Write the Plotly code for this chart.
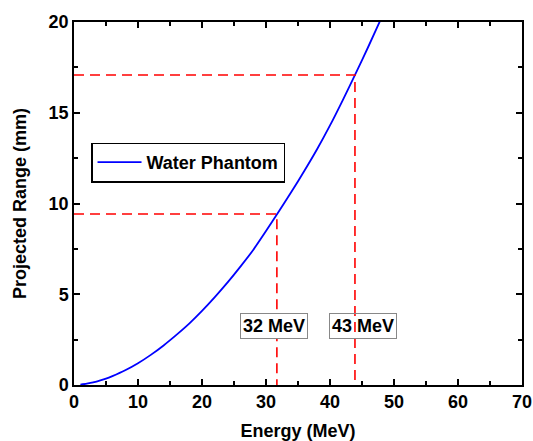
import plotly.graph_objects as go

# Projected range of protons in water
energy_mev = [1, 2, 3, 4, 5, 6, 8, 10, 12, 14, 16, 18, 20, 22, 24, 26, 28, 30,
              32, 34, 36, 38, 40, 42, 44, 46, 48]
range_mm = [0.02, 0.07, 0.14, 0.24, 0.35, 0.49, 0.81, 1.20, 1.66, 2.18, 2.76,
            3.38, 4.08, 4.84, 5.65, 6.52, 7.44, 8.48, 9.56, 10.66, 11.8, 13.0,
            14.3, 15.7, 17.15, 18.65, 20.2]

# Marked energies and their ranges
mark_energy = [31.7, 43.9]
mark_range = [9.42, 17.08]
mark_labels = ["32 MeV", "43 MeV"]
label_pos_x = [31.2, 45.1]
label_pos_y = [3.25, 3.25]

FONT = "Liberation Sans"

fig = go.Figure()

fig.add_trace(go.Scatter(
    x=energy_mev, y=range_mm, mode="lines", name="Water Phantom",
    line=dict(color="#0000ff", width=1.8, shape="spline", smoothing=0.6),
    cliponaxis=True))

for e, r in zip(mark_energy, mark_range):
    fig.add_trace(go.Scatter(
        x=[0, e, e], y=[r, r, 0], mode="lines", showlegend=False,
        line=dict(color="#ff0000", width=1.6, dash="10px,6px")))

for i, (lab, lx, ly) in enumerate(zip(mark_labels, label_pos_x, label_pos_y)):
    fig.add_annotation(
        x=lx, y=ly, text=lab, showarrow=False,
        font=dict(family=FONT, size=18, color="black", weight="bold"),
        bordercolor="#888888", borderwidth=1, borderpad=2,
        bgcolor="white" if i == 0 else "rgba(0,0,0,0)")

axis_common = dict(
    showline=True, linecolor="black", linewidth=1.5, mirror="ticks",
    ticks="inside", ticklen=6, tickwidth=1.5, tickcolor="black",
    showgrid=False, zeroline=False, automargin=False,
    tickfont=dict(family=FONT, size=18, color="black", weight="bold"),
)

fig.update_xaxes(
    range=[0, 70], dtick=10, tick0=0,
    minor=dict(ticks="inside", ticklen=4, dtick=5, tickwidth=1.5, tickcolor="black"),
    title=dict(text="Energy (MeV)", standoff=17,
               font=dict(family=FONT, size=18, color="black", weight="bold")),
    **axis_common)
fig.update_yaxes(
    range=[0, 20], dtick=5, tick0=0,
    minor=dict(ticks="inside", ticklen=4, dtick=2.5, tickwidth=1.5, tickcolor="black"),
    title=dict(text="Projected Range (mm)", standoff=17,
               font=dict(family=FONT, size=18, color="black", weight="bold")),
    **axis_common)

fig.update_layout(
    width=533, height=441,
    margin=dict(l=74, r=11, t=22, b=56),
    plot_bgcolor="white", paper_bgcolor="white",
    legend=dict(x=0.038, y=0.668, xanchor="left", yanchor="top",
                bgcolor="white", bordercolor="black", borderwidth=1.5,
                font=dict(family=FONT, size=18, color="black", weight="bold"),
                itemwidth=44, tracegroupgap=0),
)

fig.write_html("out.html")
